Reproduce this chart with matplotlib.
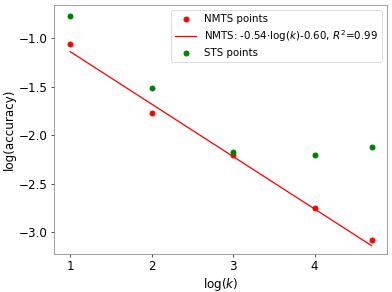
import numpy as np
import matplotlib
matplotlib.use("Agg")
import matplotlib.pyplot as plt

log_k = [1.0, 2.0, 3.0, 4.0, 4.7]
nmts_acc = [-1.06, -1.77, -2.20, -2.75, -3.08]
sts_acc = [-0.77, -1.515, -2.17, -2.20, -2.12]
slope, intercept, r2 = -0.54, -0.60, 0.99


def main():
    # drawn at 6.4x4.8 in, saved small so it comes out 392x292
    fig, ax = plt.subplots(figsize=(6.4, 4.77), dpi=61.25)
    x = np.array(log_k)
    ax.scatter(log_k, nmts_acc, color='red', label='NMTS points', zorder=3)
    ax.plot(x, slope * x + intercept, color='red',
            label=f'NMTS: {slope:.2f}$\\cdot$log($k$){intercept:.2f}, $R^2$={r2:.2f}')
    ax.scatter(log_k, sts_acc, color='green', label='STS points', zorder=3)

    ax.set_xlim(0.80, 4.89)
    ax.set_ylim(-3.224, -0.657)
    ax.set_xticks([1, 2, 3, 4])
    ax.set_yticks([-1.0, -1.5, -2.0, -2.5, -3.0])
    ax.tick_params(labelsize=14)
    ax.set_xlabel('log($k$)', fontsize=14)
    ax.set_ylabel('log(accuracy)', fontsize=14)
    for s in ax.spines.values():
        s.set_color('#777777')

    ax.legend(loc='upper right', fontsize=12, labelspacing=0.4)

    fig.subplots_adjust(left=54 / 392, right=387 / 392, top=1 - 5 / 292, bottom=1 - 254 / 292)
    fig.savefig('out.png')


if __name__ == '__main__':
    main()
